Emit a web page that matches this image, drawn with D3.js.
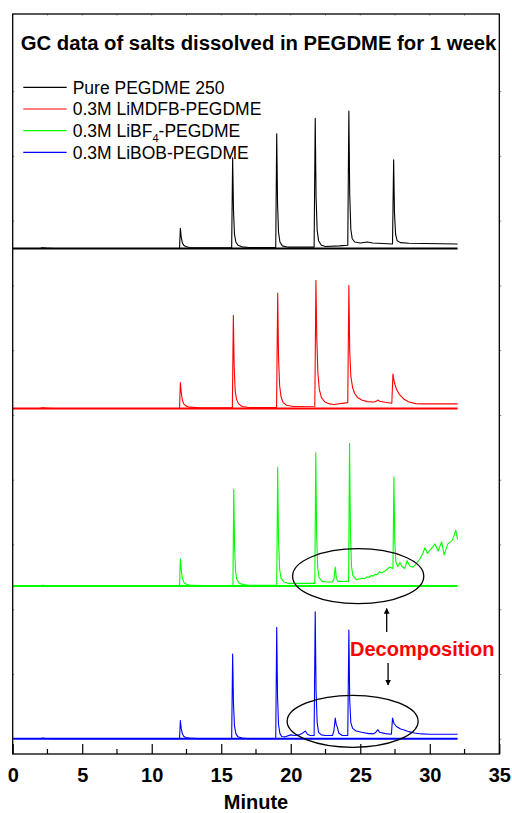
<!DOCTYPE html>
<html>
<head>
<meta charset="utf-8">
<script src="https://cdn.jsdelivr.net/npm/d3@7"></script>
<style>
  body { margin: 0; background: #fff; }
  text { font-family: "Liberation Sans", Arial, sans-serif; }
</style>
</head>
<body>
<script>
// chromatograms, [minute, intensity]
var pureTrace = [
  [2.0,0],[2.1,1],[2.4,0.5],[3,0],[12.0,0],[12.06,31],[12.12,18],[12.2,9],[12.3,5],[12.45,3],[12.7,1.5],[13.5,1],[15.75,1],
  [15.82,140],[15.88,60],[15.95,22],[16.05,10],[16.2,5],[16.5,2.5],[17,1.5],[18.92,1.5],
  [18.99,177],[19.05,70],[19.12,25],[19.22,10],[19.4,4],[19.8,2],[21.68,2],
  [21.76,201],[21.82,80],[21.9,28],[22.0,12],[22.2,5],[22.5,3],[23.5,4],[24.1,5],
  [24.18,212],[24.24,85],[24.32,30],[24.42,15],[24.6,10],[25.0,8.5],[25.5,10],[25.9,8.5],[27.32,7],
  [27.4,137],[27.46,55],[27.54,22],[27.65,12],[27.9,9],[28.5,8],[32,7]
];
var mdfbTrace = [
  [2.0,0],[2.1,1],[2.4,0.5],[3,0],[12.0,0],[12.06,40],[12.12,25],[12.2,13],[12.3,7],[12.45,4],[12.7,2],[13.5,1],[15.8,1],
  [15.87,144],[15.93,65],[16.0,28],[16.1,14],[16.25,7],[16.5,3],[17,1.5],[18.98,1.5],
  [19.06,178],[19.12,80],[19.2,35],[19.3,18],[19.45,9],[19.7,5],[20.2,3],[21.73,3.5],
  [21.81,198],[21.87,110],[21.95,55],[22.05,30],[22.2,17],[22.45,10],[22.8,7],[23.1,6],[24.1,9],
  [24.18,190],[24.24,90],[24.32,50],[24.45,32],[24.6,23],[24.8,17],[25.1,13],[25.5,10.5],[26.0,10],[26.15,11],[26.25,13],[26.4,11],[26.8,9.5],[27.27,8],
  [27.35,53],[27.45,40],[27.6,30],[27.8,22],[28.1,15],[28.5,10],[29.0,7.5],[29.5,7],[32,7]
];
var bf4Trace = [
  [2.0,0],[2.1,1],[2.4,0.5],[3,0],[12.0,0],[12.06,42],[12.12,25],[12.2,12],[12.3,6],[12.45,3],[12.7,1.5],[13.5,0.5],[15.84,0.5],
  [15.9,149],[15.96,60],[16.03,22],[16.12,10],[16.3,4],[16.6,2],[17,1],[18.99,1],
  [19.06,183],[19.12,70],[19.2,26],[19.3,12],[19.5,6],[19.8,4],[21.73,4],
  [21.8,206],[21.86,80],[21.94,28],[22.04,13],[22.25,7],[22.6,6],[23.0,6],[23.1,10],[23.2,29],[23.28,12],[23.4,7],[24.16,7],
  [24.23,220],[24.29,85],[24.37,30],[24.47,16],[24.7,10],[25.0,11],[25.2,12],[25.3,11],[25.46,14],[25.6,13],[25.8,16],[25.9,15],[26.1,18],[26.2,17],[26.4,22],[26.5,20],[26.7,22],[26.9,25],[27.1,29],[27.35,27],
  [27.42,168],[27.48,70],[27.56,37],[27.7,30],[27.85,36],[28.0,30],[28.2,27],[28.37,39],[28.5,33],[28.6,30],[28.8,29],[29.05,35],[29.3,42],[29.5,50],[29.65,59],[29.84,50],[30.0,55],[30.2,60],[30.37,65],[30.6,54],[30.85,68],[31.03,48],[31.3,65],[31.6,70],[31.7,75],[31.87,86],[32,72]
];
var bobTrace = [
  [2.0,0],[2.1,1],[2.4,0.5],[3,0],[12.0,0],[12.06,28],[12.12,16],[12.2,8],[12.3,4],[12.45,2],[12.7,1],[13.5,0],[15.75,0],
  [15.82,131],[15.88,55],[15.95,20],[16.05,8],[16.2,3],[16.5,1],[17,0],[18.92,0],
  [18.99,172],[19.05,65],[19.12,22],[19.22,8],[19.35,3.5],[19.6,3],[20.0,6],[20.3,5],[20.6,6],[20.8,8],[21.05,12],[21.2,7],[21.4,5],[21.68,5],
  [21.76,196],[21.82,75],[21.9,25],[22.0,10],[22.2,6],[22.5,5],[23.0,5],[23.1,12],[23.2,32],[23.27,22],[23.35,18],[23.45,9],[23.7,5],[24.1,5],
  [24.18,168],[24.24,60],[24.32,25],[24.45,16],[24.7,12],[25.1,10],[25.6,8],[26.0,8],[26.15,11],[26.25,14],[26.4,10],[26.8,8],[27.24,7],
  [27.32,32],[27.42,24],[27.6,19],[27.9,15],[28.1,14],[28.5,11],[28.9,9],[29.4,7.5],[30,7],[32,7]
];

var seriesNames = ["Pure PEGDME 250", "0.3M LiMDFB-PEGDME", "0.3M LiBF4-PEGDME", "0.3M LiBOB-PEGDME"];
var seriesColors = ["#000000", "#ff0000", "#00ff00", "#0000ff"];
var seriesOffsets = [757, 510, 236, 0];   // vertical stacking offsets
var traces = [pureTrace, mdfbTrace, bf4Trace, bobTrace];

var xTicks = [0, 5, 10, 15, 20, 25, 30, 35];
var xMinorTicks = [2.5, 7.5, 12.5, 17.5, 22.5, 27.5, 32.5];
var yTicks = [0, 100, 200, 300, 400, 500, 600, 700, 800, 900, 1000];

var chartTitle = "GC data of salts dissolved in PEGDME for 1 week";
var xTitle = "Minute";

// frame
var W = 512, H = 813;
var box = {left: 12.7, top: 14, right: 499.3, bottom: 754};

var x = d3.scaleLinear().domain([0, 35]).range([box.left, box.right]);
var y = d3.scaleLinear().domain([-23.5, 1119]).range([box.bottom, box.top]);

var svg = d3.select("body").append("svg")
    .attr("width", W)
    .attr("height", H);

// baselines + traces
var line = d3.line()
    .x(function(d) { return x(d[0]); })
    .y(function(d) { return y(d[1]); });

traces.forEach(function(tr, i) {
  var off = seriesOffsets[i];
  svg.append("line")
      .attr("x1", x(0)).attr("x2", x(32))
      .attr("y1", y(off)).attr("y2", y(off))
      .attr("stroke", seriesColors[i])
      .attr("stroke-width", 2);
  svg.append("path")
      .datum(tr.map(function(d) { return [d[0], d[1] + off]; }))
      .attr("d", line)
      .attr("fill", "none")
      .attr("stroke", seriesColors[i])
      .attr("stroke-width", 1.1)
      .attr("stroke-linejoin", "round");
});

// axes: ticks point inside on bottom, tiny on other sides
svg.append("g")
    .attr("transform", "translate(0," + box.bottom + ")")
    .call(d3.axisBottom(x).tickValues(xTicks).tickSize(-10).tickPadding(14)
      .tickFormat(d3.format("d")))
    .call(function(g) {
      g.select(".domain").remove();
      g.selectAll(".tick line").attr("stroke", "#000").attr("stroke-width", 1.2);
      g.selectAll(".tick text")
        .attr("font-size", "20px").attr("font-weight", "bold")
        .attr("font-family", "Liberation Sans, Arial, sans-serif")
        .attr("fill", "#000");
    });

svg.append("g")
    .selectAll("line")
    .data(xMinorTicks)
    .enter().append("line")
      .attr("x1", function(d) { return x(d); })
      .attr("x2", function(d) { return x(d); })
      .attr("y1", box.bottom).attr("y2", box.bottom - 5)
      .attr("stroke", "#000").attr("stroke-width", 1.2);

// top ticks
svg.append("g")
    .selectAll("line")
    .data(xTicks.concat(xMinorTicks))
    .enter().append("line")
      .attr("x1", function(d) { return x(d); })
      .attr("x2", function(d) { return x(d); })
      .attr("y1", box.top).attr("y2", box.top + 1.5)
      .attr("stroke", "#888").attr("stroke-width", 1);

// left / right ticks
svg.append("g")
    .attr("transform", "translate(" + box.left + ",0)")
    .call(d3.axisLeft(y).tickValues(yTicks).tickSize(-1.5).tickFormat(""))
    .call(function(g) {
      g.select(".domain").remove();
      g.selectAll(".tick line").attr("stroke", "#888");
    });
svg.append("g")
    .attr("transform", "translate(" + box.right + ",0)")
    .call(d3.axisRight(y).tickValues(yTicks).tickSize(2).tickFormat(""))
    .call(function(g) {
      g.select(".domain").remove();
      g.selectAll(".tick line").attr("stroke", "#888");
    });

// frame
svg.append("rect")
    .attr("x", box.left).attr("y", box.top)
    .attr("width", box.right - box.left)
    .attr("height", box.bottom - box.top)
    .attr("fill", "none")
    .attr("stroke", "#000")
    .attr("stroke-width", 1.3);

// titles
svg.append("text")
    .attr("x", 20.7).attr("y", 49.5)
    .attr("font-size", "20.3px").attr("font-weight", "bold")
    .text(chartTitle);

svg.append("text")
    .attr("x", (box.left + box.right) / 2).attr("y", 809)
    .attr("text-anchor", "middle")
    .attr("font-size", "20px").attr("font-weight", "bold")
    .text(xTitle);

// legend
var legend = svg.selectAll(".legend")
    .data(seriesNames)
  .enter().append("g")
    .attr("class", "legend")
    .attr("transform", function(d, i) { return "translate(0," + (87.3 + i * 21.7) + ")"; });

legend.append("line")
    .attr("x1", 23.3).attr("x2", 66.7)
    .attr("y1", 0).attr("y2", 0)
    .attr("stroke", function(d, i) { return seriesColors[i]; })
    .attr("stroke-width", 1.2);

legend.append("text")
    .attr("x", 72.7).attr("y", 6.3)
    .attr("font-size", "17.5px")
    .each(function(d) {
      var t = d3.select(this);
      var m = d.match(/^(.*LiBF)4(-.*)$/);
      if (m) {
        t.append("tspan").text(m[1]);
        t.append("tspan").attr("dy", 5).attr("font-size", "11px").text("4");
        t.append("tspan").attr("dy", -5).text(m[2]);
      } else {
        t.text(d);
      }
    });

// decomposition annotation
var ellipses = [
  {t: 24.85, v: 236 + 15, rx: 65.6, ry: 27.5},
  {t: 24.45, v: 27, rx: 65.5, ry: 26}
];
svg.selectAll(".ring")
    .data(ellipses)
  .enter().append("ellipse")
    .attr("class", "ring")
    .attr("cx", function(d) { return x(d.t); })
    .attr("cy", function(d) { return y(d.v); })
    .attr("rx", function(d) { return d.rx; })
    .attr("ry", function(d) { return d.ry; })
    .attr("fill", "none")
    .attr("stroke", "#000")
    .attr("stroke-width", 1.3);

svg.append("defs").append("marker")
    .attr("id", "head")
    .attr("viewBox", "0 0 10 10")
    .attr("refX", 9).attr("refY", 5)
    .attr("markerWidth", 4.5).attr("markerHeight", 5)
    .attr("orient", "auto")
  .append("path")
    .attr("d", "M0,0L10,5L0,10Z")
    .attr("fill", "#000");

svg.append("line")
    .attr("x1", x(26.9)).attr("x2", x(26.9))
    .attr("y1", y(165)).attr("y2", y(201))
    .attr("stroke", "#000").attr("stroke-width", 1.3)
    .attr("marker-end", "url(#head)");
svg.append("line")
    .attr("x1", x(27.0)).attr("x2", x(27.0))
    .attr("y1", y(117)).attr("y2", y(83))
    .attr("stroke", "#000").attr("stroke-width", 1.3)
    .attr("marker-end", "url(#head)");

svg.append("text")
    .attr("x", 350).attr("y", 656)
    .attr("font-size", "20px").attr("font-weight", "bold")
    .attr("fill", "#ff0000")
    .text("Decomposition");
</script>
</body>
</html>
